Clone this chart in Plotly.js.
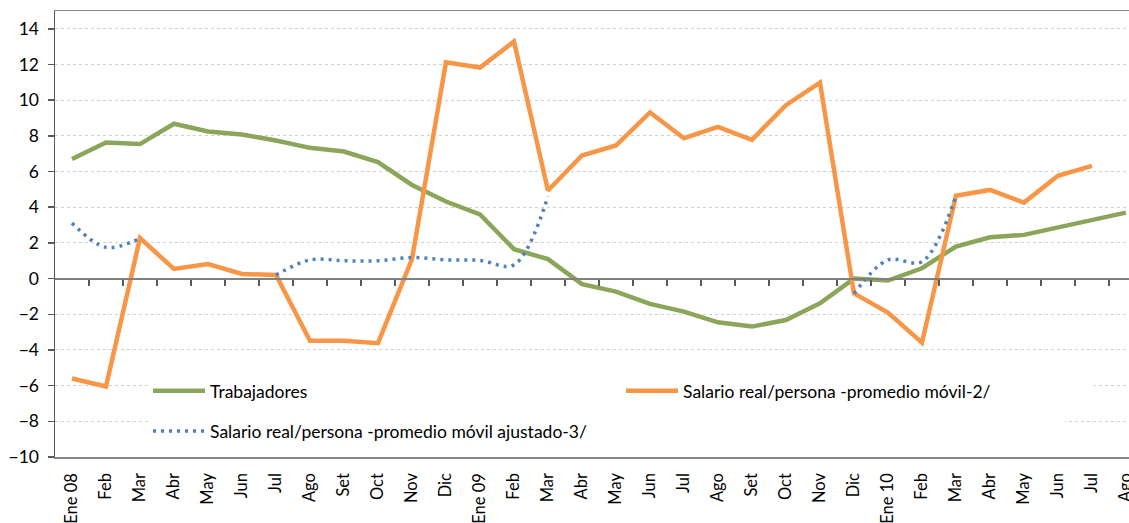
<!DOCTYPE html>
<html>
<head>
<meta charset="utf-8">
<script src="https://cdn.plot.ly/plotly-3.0.1.min.js"></script>
<style>
html, body { margin: 0; padding: 0; background: #fff; overflow: hidden; }
#chart { width: 1129px; height: 523px; }
</style>
</head>
<body>
<div id="chart"></div>
<script>
// Tick labels (months)
const months = ["Ene 08","Feb","Mar","Abr","May","Jun","Jul","Ago","Set","Oct","Nov","Dic",
                "Ene 09","Feb","Mar","Abr","May","Jun","Jul","Ago","Set","Oct","Nov","Dic",
                "Ene 10","Feb","Mar","Abr","May","Jun","Jul","Ago"];

// Series values
const trabajadores = [6.70, 7.63, 7.54, 8.68, 8.25, 8.08, 7.74, 7.33, 7.12, 6.53, 5.25, 4.32,
                      3.60, 1.65, 1.09, -0.31, -0.73, -1.42, -1.85, -2.45, -2.69, -2.32, -1.38, 0.00,
                      -0.11, 0.58, 1.80, 2.32, 2.45, 2.88, 3.25, 3.70];

const salarioMovil2 = [-5.60, -6.05, 2.27, 0.54, 0.82, 0.26, 0.20, -3.48, -3.48, -3.62, 1.09, 12.12,
                       11.83, 13.29, 4.94, 6.90, 7.46, 9.31, 7.87, 8.51, 7.78, 9.72, 10.99, -0.83,
                       -1.90, -3.59, 4.64, 4.97, 4.26, 5.76, 6.32, null];

const salarioAjustado3 = [3.12, 1.75, 2.26, null, null, null, 0.20, 1.05, 1.00, 1.00, 1.18, 1.05,
                          1.02, 0.77, 4.62, null, null, null, null, null, null, null, null, -0.84,
                          1.05, 0.95, 4.64, null, null, null, null, null];

const names = ["Trabajadores",
               "Salario real/persona -promedio móvil-2/",
               "Salario real/persona -promedio móvil ajustado-3/"];

const idx = months.map((_, i) => i);
const bounds = months.map((_, i) => i + 0.5);

const FONT = "Lato, 'Open Sans', sans-serif";

const traces = [
  {
    x: idx, y: trabajadores, type: "scatter", mode: "lines", name: names[0],
    line: { color: "#8BA65A", width: 4.5 }, legend: "legend", hoverinfo: "skip"
  },
  {
    x: idx, y: salarioMovil2, type: "scatter", mode: "lines", name: names[1],
    line: { color: "#F79646", width: 4.5 }, legend: "legend", hoverinfo: "skip"
  },
  {
    x: idx, y: salarioAjustado3, type: "scatter", mode: "lines", name: names[2],
    xaxis: "x2",
    line: { color: "#4F81BD", width: 3.5, dash: "3px,5px", shape: "spline", smoothing: 1 },
    legend: "legend2", hoverinfo: "skip"
  }
];

const layout = {
  width: 1129, height: 523,
  margin: { l: 55, r: 0, t: 11, b: 66, pad: 0 },
  paper_bgcolor: "#ffffff", plot_bgcolor: "#ffffff",
  font: { family: FONT, size: 17, color: "#000000" },
  showlegend: true,
  xaxis: {
    range: [-0.5, 31.09], tickmode: "array", tickvals: idx, ticktext: months,
    tickangle: -90, ticks: "", ticklabelstandoff: 8, ticklabeloverflow: "allow",
    showgrid: false, zeroline: false,
    showline: true, mirror: true, linecolor: "#868686", linewidth: 1.5,
    tickfont: { family: FONT, size: 16.5, color: "#000" }
  },
  xaxis2: {
    overlaying: "x", matches: "x", anchor: "free", position: 0.4, side: "bottom",
    tickmode: "array", tickvals: bounds, showticklabels: false,
    ticks: "outside", ticklen: 6, tickwidth: 1.5, tickcolor: "#595959",
    showgrid: false, zeroline: false,
    showline: true, linecolor: "#808080", linewidth: 2
  },
  yaxis: {
    range: [-10, 15], tickmode: "array", tickvals: [-10,-8,-6,-4,-2,0,2,4,6,8,10,12,14],
    ticks: "outside", ticklen: 6, tickwidth: 1.5, tickcolor: "#595959",
    ticklabelstandoff: 5,
    showgrid: true, gridcolor: "#d0d0d0", gridwidth: 1, griddash: "dot",
    zeroline: false, showline: true, linecolor: "#595959", linewidth: 1.5,
    tickfont: { family: FONT, size: 17.5, color: "#000" }
  },
  legend: {
    orientation: "h", x: 0.0866, xanchor: "left", y: 0.148, yanchor: "middle",
    entrywidth: 406, entrywidthmode: "pixels", itemwidth: 52,
    bgcolor: "#ffffff", borderwidth: 0,
    font: { family: FONT, size: 17.5, color: "#000" }
  },
  legend2: {
    orientation: "h", x: 0.0866, xanchor: "left", y: 0.058, yanchor: "middle",
    entrywidth: 850, entrywidthmode: "pixels", itemwidth: 52,
    bgcolor: "#ffffff", borderwidth: 0,
    font: { family: FONT, size: 17.5, color: "#000" }
  }
};

Plotly.newPlot("chart", traces, layout, { displayModeBar: false, staticPlot: true });
</script>
</body>
</html>
